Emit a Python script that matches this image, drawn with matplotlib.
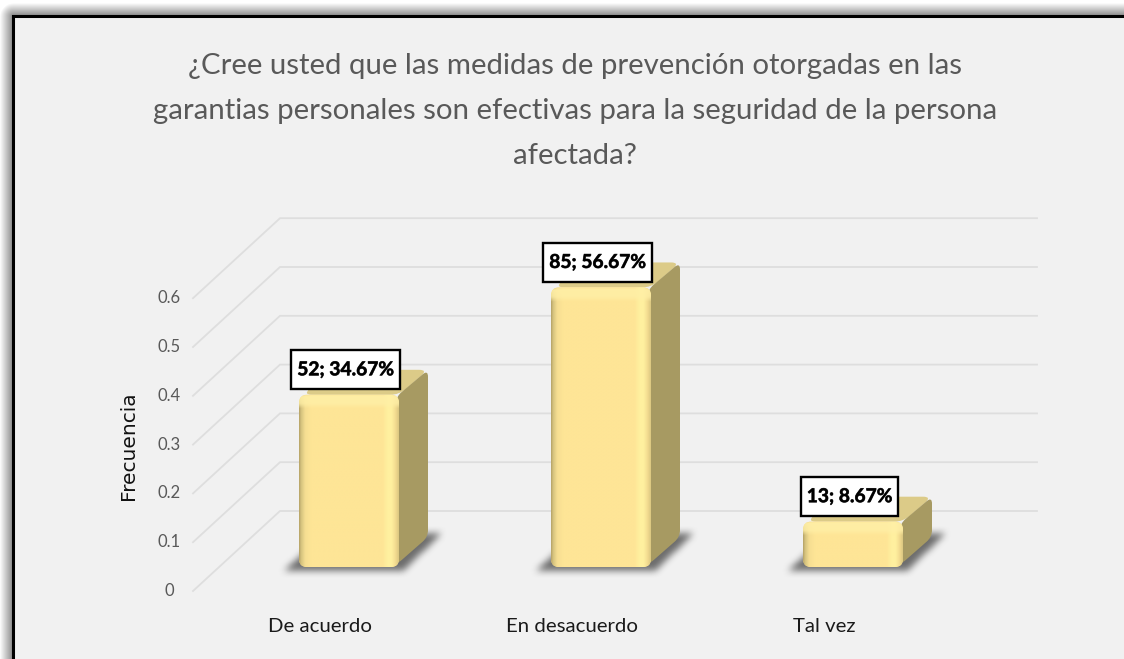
import numpy as np
import matplotlib
matplotlib.use('Agg')
import matplotlib.pyplot as plt
import matplotlib.patheffects as pe
from matplotlib.path import Path
from matplotlib.patches import PathPatch, Rectangle
from matplotlib.colors import to_rgb

title = '¿Cree usted que las medidas de prevención otorgadas en las\ngarantias personales son efectivas para la seguridad de la persona\nafectada?'
categories = ['De acuerdo', 'En desacuerdo', 'Tal vez']
counts = [52, 85, 13]
percents = [34.67, 56.67, 8.67]
y_ticks = [0, 0.1, 0.2, 0.3, 0.4, 0.5, 0.6]
y_label = 'Frecuencia'

WIDTH, HEIGHT = 1124, 659
STEP_X = 252       # pixels between two categories
STEP_Y = 488       # pixels for a value of 1
X0, Y0 = 348, 567  # pixel of category 0, value 0 on the bar front


def rounded(pts, r):
    # closed path in pixel units, corners rounded with radius r
    pts = [np.array(p, float) for p in pts]
    verts, codes = [], []
    n = len(pts)
    for k in range(n):
        prev, cur, nxt = pts[k - 1], pts[k], pts[(k + 1) % n]
        a = cur + (prev - cur) / np.linalg.norm(prev - cur) * r
        b = cur + (nxt - cur) / np.linalg.norm(nxt - cur) * r
        verts += [a, cur, b]
        codes += [Path.LINETO if k else Path.MOVETO, Path.CURVE3, Path.CURVE3]
    verts.append(verts[0])
    codes.append(Path.CLOSEPOLY)
    return Path(verts, codes)


def to_data(path):
    # pixel units (y downwards from Y0 = 0) to category / value coordinates
    return Path(np.column_stack([path.vertices[:, 0] / STEP_X, -path.vertices[:, 1] / STEP_Y]), path.codes)


def add_shape(ax, pts, r, z, **kw):
    patch = PathPatch(to_data(rounded(pts, r)), zorder=z, **kw)
    ax.add_patch(patch)
    return patch


def blurred_shadow(ax, pts, blur, z):
    # polygon mask on a pixel grid, smoothed by repeated box filters
    pts = np.array(pts, float)
    x0, x1 = pts[:, 0].min() - 2 * blur, pts[:, 0].max() + 2 * blur
    y0, y1 = pts[:, 1].min() - 2 * blur, pts[:, 1].max() + 2 * blur
    xs = np.arange(x0, x1)
    ys = np.arange(y0, y1)
    gx, gy = np.meshgrid(xs, ys)
    mask = Path(pts).contains_points(np.column_stack([gx.ravel(), gy.ravel()])).reshape(gx.shape).astype(float)
    kernel = np.convolve(np.ones(blur), np.ones(blur))
    kernel = kernel / kernel.sum()
    mask = np.apply_along_axis(lambda m: np.convolve(m, kernel, mode='same'), 0, mask)
    mask = np.apply_along_axis(lambda m: np.convolve(m, kernel, mode='same'), 1, mask)
    img = np.zeros(mask.shape + (4,))
    img[:, :, :3] = 0.3
    img[:, :, 3] = mask * 0.8
    ax.imshow(img, extent=[x0 / STEP_X, x1 / STEP_X, -y1 / STEP_Y, -y0 / STEP_Y],
              aspect='auto', zorder=z, interpolation='bilinear')


def ramp_image(ax, patch, left, right, top, bottom, colors_x, colors_y, z):
    # front face shading: horizontal colour ramp with a highlight band on top
    w, h = 120, 200
    xs = np.linspace(0, 1, w)
    img = np.zeros((h, w, 3))
    for c in range(3):
        img[:, :, c] = np.interp(xs * (right - left), colors_x[0], [col[c] for col in colors_x[1]])
    ys = np.linspace(0, 1, h) * (bottom - top)
    for c in range(3):
        blend = np.interp(ys, colors_y[0], colors_y[1])[:, None]
        img[:, :, c] = img[:, :, c] * (1 - blend) + to_rgb('#FFEFA6')[c] * blend
    im = ax.imshow(img, extent=[left / STEP_X, right / STEP_X, -bottom / STEP_Y, -top / STEP_Y],
                   aspect='auto', zorder=z, interpolation='bilinear')
    im.set_clip_path(patch)


fig = plt.figure(figsize=(WIDTH / 100, HEIGHT / 100), dpi=100)
plt.rcParams['font.family'] = ['Lato', 'DejaVu Sans']

# slide background with the soft shadow outside the frame
yy, xx = np.mgrid[0:HEIGHT, 0:WIDTH]
dx_out = np.clip(13 - xx, 0, None)
dy_out = np.clip(16 - yy, 0, None)
dist = np.hypot(dx_out, dy_out)
shade = np.clip(0.52 + 0.5 * dist / 14, 0, 1)
bg = np.where(dist > 0, shade, 0.949)
fig.figimage(np.dstack([bg, bg, bg]), origin='upper', zorder=-1)

ax = fig.add_axes([0, 0, 1, 1])
ax.set_zorder(1)
ax.patch.set_alpha(0)
ax.axis('off')

GRID = '#DEDEDE'
for v in y_ticks:
    back_y = 511 - Y0 - v * STEP_Y
    front_y = 591 - Y0 - v * STEP_Y
    ax.plot(np.array([193 - X0, 280 - X0, 1037 - X0]) / STEP_X,
            -np.array([front_y, back_y, back_y]) / STEP_Y,
            color=GRID, lw=1.3, zorder=1, solid_joinstyle='miter')
    ax.text((169 - X0) / STEP_X, -front_y / STEP_Y, f'{v:g}', ha='center', va='center',
            fontsize=12, color='#595959', zorder=6)

for i, cat in enumerate(categories):
    ax.text(i + (-28) / STEP_X, -(626 - Y0) / STEP_Y, cat, ha='center', va='center',
            fontsize=14.7, color='#1a1a1a', zorder=6)

ax.text((129 - X0) / STEP_X, -(446 - Y0) / STEP_Y, y_label, rotation=90, ha='center', va='center',
        fontsize=14.5, color='#111111', family='DejaVu Sans', zorder=6)

ax.text((575 - X0) / STEP_X, -(111 - Y0) / STEP_Y, title, ha='center', va='center',
        fontsize=21.15, color='#595959', linespacing=1.9, zorder=6)

front_x = ([0, 2, 6, 12, 84, 89, 93, 97, 100],
           [to_rgb(c) for c in ['#B9A669', '#D8C580', '#F6DE92', '#FEE596', '#FEE596', '#FFF09F',
                                '#FFF09F', '#F3DC90', '#DCC882']])
front_y_blend = ([0, 2, 9, 14], [0.0, 0.9, 0.8, 0.0])

ax.set_xlim(-X0 / STEP_X, (WIDTH - X0) / STEP_X)
ax.set_ylim((Y0 - HEIGHT) / STEP_Y, Y0 / STEP_Y)
renderer = fig.canvas.get_renderer()

for i, pct in enumerate(percents):
    value = pct / 100
    cx = i * STEP_X
    top = -value * STEP_Y - 3
    left, right = cx - 49, cx + 51

    blurred_shadow(ax, [(left - 15, 3), (left + 22, -30), (right + 43, -34), (right + 4, 3)], 8, 2)

    add_shape(ax, [(left + 4, top), (left + 31, top - 25), (right + 29, top - 25), (right, top)],
              9, 3, facecolor='#DCCB88', edgecolor='none')
    add_shape(ax, [(right - 3, top + 2), (right + 29, top - 25), (right + 29, -30), (right - 3, -2)],
              7, 3, facecolor='#A79A62', edgecolor='none')
    front = add_shape(ax, [(left, top), (right, top), (right, 0), (left, 0)], 8, 4,
                      facecolor='#FEE596', edgecolor='none')
    ramp_image(ax, front, left, right, top, 0, front_x, front_y_blend, 4)

    # data label, box follows the text width
    box_x = cx - 2.5
    box_y = top - 25
    label = ax.text(box_x / STEP_X, -box_y / STEP_Y, f'{counts[i]}; {pct:.2f}%', ha='center', va='center',
                    fontsize=13.8, fontweight='bold', color='black', zorder=9,
                    path_effects=[pe.withStroke(linewidth=0.5, foreground='#333333')])
    half = label.get_window_extent(renderer).width / 2 + 6
    ax.add_patch(Rectangle(((box_x - half) / STEP_X, -(box_y + 19.5) / STEP_Y), 2 * half / STEP_X, 39 / STEP_Y,
                           facecolor='white', edgecolor='black', lw=1.7, zorder=8))

# imshow changes the limits, set them again
ax.set_xlim(-X0 / STEP_X, (WIDTH - X0) / STEP_X)
ax.set_ylim((Y0 - HEIGHT) / STEP_Y, Y0 / STEP_Y)

# black frame, runs off the right and bottom of the picture
ax.add_patch(Rectangle((13 / WIDTH, -0.1), 1.2, 1.1 - 16 / HEIGHT, transform=ax.transAxes,
                       fill=False, edgecolor='black', lw=2.2, zorder=9, clip_on=True))

fig.savefig('out.png', dpi=100)
